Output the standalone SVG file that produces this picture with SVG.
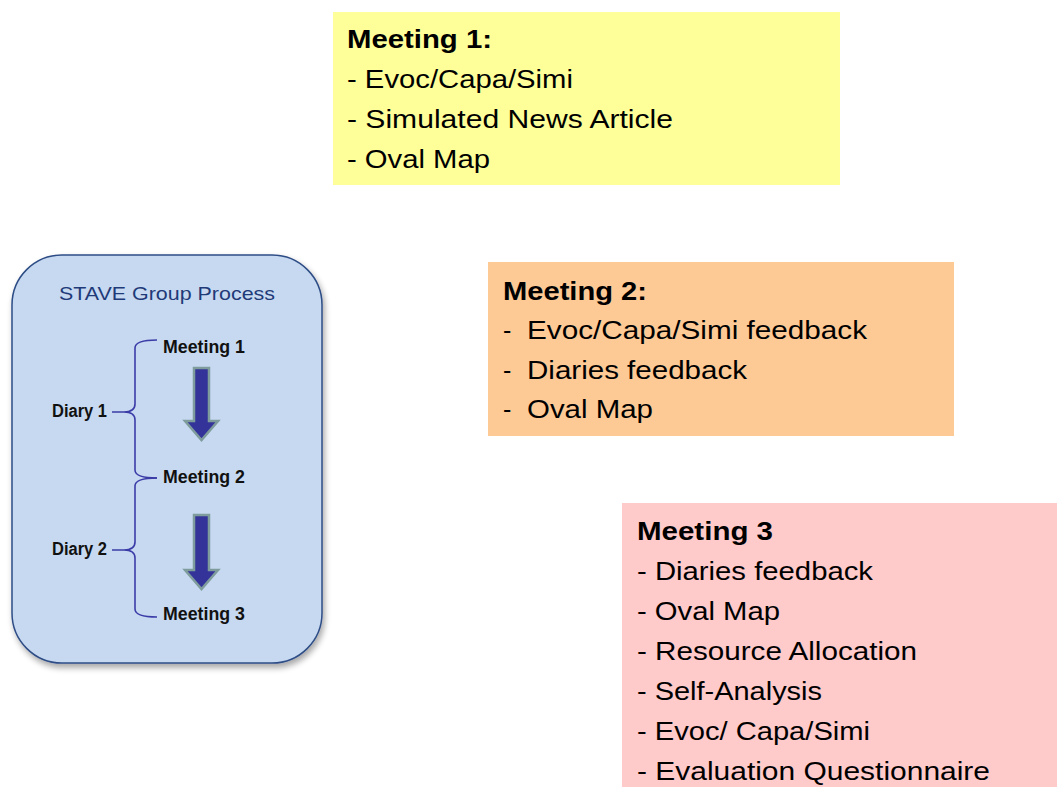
<svg xmlns="http://www.w3.org/2000/svg" width="1057" height="787" viewBox="0 0 1057 787">
  <style>
    .box-text { font-family: "Liberation Sans", Arial, sans-serif; font-size: 25px; fill: #000; }
    .head { font-weight: bold; }
    .panel-title { font-family: "Liberation Sans", Arial, sans-serif; font-size: 19px; fill: #1f3a78; }
    .panel-label { font-family: "Liberation Sans", Arial, sans-serif; font-size: 17.5px; font-weight: bold; fill: #111; }
    .brace { fill: none; stroke: #3c3ca8; stroke-width: 1.6; }
    .flow-arrow { fill: #333399; stroke: #7f9c9c; stroke-width: 2.5; stroke-linejoin: miter; }
  </style>
  <defs>
    <filter id="softShadow" x="-10%" y="-10%" width="125%" height="125%">
      <feGaussianBlur in="SourceAlpha" stdDeviation="3"/>
      <feOffset dx="2" dy="4" result="blur"/>
      <feComponentTransfer><feFuncA type="linear" slope="0.35"/></feComponentTransfer>
      <feMerge><feMergeNode/><feMergeNode in="SourceGraphic"/></feMerge>
    </filter>
  </defs>

  <rect x="0" y="0" width="1057" height="787" fill="#ffffff"/>

  <!-- Meeting 1 box -->
  <g id="meeting1">
    <rect x="333" y="12" width="507" height="173" fill="#ffff99"/>
    <text class="box-text head" x="347" y="48" textLength="145" lengthAdjust="spacingAndGlyphs">Meeting 1:</text>
    <text class="box-text" x="347" y="88" textLength="226" lengthAdjust="spacingAndGlyphs">- Evoc/Capa/Simi</text>
    <text class="box-text" x="347" y="128" textLength="326" lengthAdjust="spacingAndGlyphs">- Simulated News Article</text>
    <text class="box-text" x="347" y="168" textLength="143" lengthAdjust="spacingAndGlyphs">- Oval Map</text>
  </g>

  <!-- Meeting 2 box -->
  <g id="meeting2">
    <rect x="488" y="262" width="466" height="174" fill="#fdca96"/>
    <text class="box-text head" x="503" y="300" textLength="144" lengthAdjust="spacingAndGlyphs">Meeting 2:</text>
    <text class="box-text" x="503" y="339">-</text>
    <text class="box-text" x="527" y="339" textLength="340" lengthAdjust="spacingAndGlyphs">Evoc/Capa/Simi feedback</text>
    <text class="box-text" x="503" y="379">-</text>
    <text class="box-text" x="527" y="379" textLength="220" lengthAdjust="spacingAndGlyphs">Diaries feedback</text>
    <text class="box-text" x="503" y="418">-</text>
    <text class="box-text" x="527" y="418" textLength="126" lengthAdjust="spacingAndGlyphs">Oval Map</text>
  </g>

  <!-- Meeting 3 box -->
  <g id="meeting3">
    <rect x="622" y="503" width="435" height="284" fill="#ffcaca"/>
    <text class="box-text head" x="637" y="540" textLength="136" lengthAdjust="spacingAndGlyphs">Meeting 3</text>
    <text class="box-text" x="637" y="580" textLength="236" lengthAdjust="spacingAndGlyphs">- Diaries feedback</text>
    <text class="box-text" x="637" y="620" textLength="143" lengthAdjust="spacingAndGlyphs">- Oval Map</text>
    <text class="box-text" x="637" y="660" textLength="280" lengthAdjust="spacingAndGlyphs">- Resource Allocation</text>
    <text class="box-text" x="637" y="700" textLength="185" lengthAdjust="spacingAndGlyphs">- Self-Analysis</text>
    <text class="box-text" x="637" y="740" textLength="233" lengthAdjust="spacingAndGlyphs">- Evoc/ Capa/Simi</text>
    <text class="box-text" x="637" y="780" textLength="353" lengthAdjust="spacingAndGlyphs">- Evaluation Questionnaire</text>
  </g>

  <!-- STAVE group process panel -->
  <g id="stave-panel">
    <rect x="12" y="255" width="310" height="408" rx="50" ry="50" fill="#c6d9f0" stroke="#2e4d86" stroke-width="1.5" filter="url(#softShadow)"/>
    <text class="panel-title" x="59" y="300" textLength="216" lengthAdjust="spacingAndGlyphs">STAVE Group Process</text>
  </g>

  <g id="stave-meeting1">
    <text class="panel-label" x="163" y="353" textLength="82" lengthAdjust="spacingAndGlyphs">Meeting 1</text>
  </g>
  <g id="stave-meeting2">
    <text class="panel-label" x="163" y="483" textLength="82" lengthAdjust="spacingAndGlyphs">Meeting 2</text>
  </g>
  <g id="stave-meeting3">
    <text class="panel-label" x="163" y="620" textLength="82" lengthAdjust="spacingAndGlyphs">Meeting 3</text>
  </g>
  <g id="stave-diary1">
    <text class="panel-label" x="52" y="417" textLength="55" lengthAdjust="spacingAndGlyphs">Diary 1</text>
  </g>
  <g id="stave-diary2">
    <text class="panel-label" x="52" y="555" textLength="55" lengthAdjust="spacingAndGlyphs">Diary 2</text>
  </g>

  <!-- Braces and flow arrows -->
  <g id="connectors">
    <path class="brace" d="M157,340 Q135,340 135,348 L135,404 Q135,412 124,412 L112,412 M124,412 Q135,412 135,420 L135,470 Q135,478 157,478"/>
    <path class="brace" d="M157,478 Q135,478 135,486 L135,542 Q135,550 124,550 L112,550 M124,550 Q135,550 135,558 L135,609 Q135,617 157,617"/>
    <path class="flow-arrow" d="M194,368 L209,368 L209,421 L218,421 L201.5,440 L185,421 L194,421 Z"/>
    <path class="flow-arrow" d="M194,515 L209,515 L209,570 L218,570 L201.5,589 L185,570 L194,570 Z"/>
  </g>
</svg>
